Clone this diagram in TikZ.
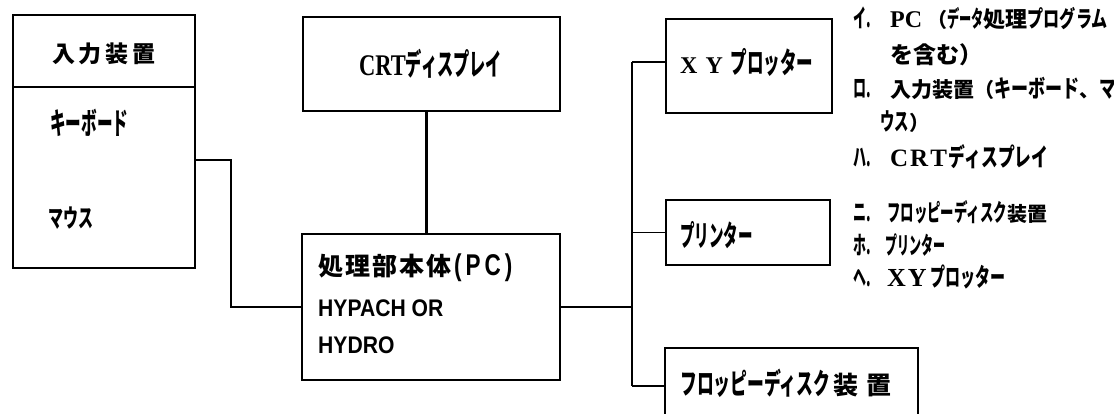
\documentclass[tikz,border=0pt]{standalone}
\usepackage{fontspec}
\usepackage{graphicx}
\newfontfamily\jp{Noto Sans CJK JP}
\newfontfamily\lser{Liberation Serif}
\newfontfamily\lsans{Liberation Sans}
\newcommand\fsz[1]{\fontsize{#1}{#1}\selectfont}
% squeezed text: size, x-scale, text
\newcommand\sq[3]{\scalebox{#2}[1]{\fsz{#1}#3}}
\newcommand\mk[2]{\makebox[#1][l]{\sq{25}{0.52}{#2}}}
\begin{document}
\begin{tikzpicture}[x=1pt,y=-1pt,
  box/.style={draw,line width=1.4pt,inner sep=0pt},
  conn/.style={line width=1.2pt},
  thickconn/.style={line width=3pt},
  busline/.style={line width=2pt},
  lbl/.style={inner sep=0pt,anchor=west,font=\jp\bfseries},
  clbl/.style={inner sep=0pt,anchor=center,font=\jp\bfseries}]
\fill[white] (0,0) rectangle (1114,414);
\clip (0,0) rectangle (1114,414);
% boxes
\node[box,minimum width=182pt,minimum height=253pt] (inp) at (104,141.5) {};
\node[box,minimum width=257pt,minimum height=94pt] (crt) at (431.5,64) {};
\node[box,minimum width=258pt,minimum height=146pt] (pc) at (431,307) {};
\node[box,minimum width=166pt,minimum height=94pt] (xy) at (749,66) {};
\node[box,minimum width=164pt,minimum height=65pt] (pr) at (748,232.5) {};
\node[box,minimum width=253pt,minimum height=76pt] (fl) at (791.5,386) {};
% divider in input box
\coordinate (dv) at (0,87);
\draw[line width=1.2pt] (inp.west |- dv) -- (inp.east |- dv);
% labels
\node[clbl] (t1) at (104,54) {\fsz{23}入\kern4pt力\kern4pt装\kern4pt置};
\node[lbl] (t2) at (50,123) {\sq{30}{0.52}{キーボード}};
\node[lbl] (t3) at (48,218) {\sq{25}{0.6}{マウス}};
\node[lbl] (t4) at (359,64) {{\lser\bfseries\fsz{30}\scalebox{0.75}[1]{CRT}}\sq{30}{0.54}{ディスプレイ}};
\node[lbl] (t5) at (318,268) {\fsz{25}処\kern2pt理\kern2pt部\kern2pt本\kern2pt体{\lsans\bfseries\kern3pt\scalebox{0.75}[1]{\fsz{30}(}\kern4pt\scalebox{0.75}[1]{\fsz{30}P}\kern4pt\scalebox{0.75}[1]{\fsz{30}C}\kern4pt\scalebox{0.75}[1]{\fsz{30})}}};
\node[lbl,font=\lsans\bfseries] (t6) at (318,308) {\scalebox{0.88}[1]{\fsz{24}HYPACH OR}};
\node[lbl,font=\lsans\bfseries] (t7) at (318,345) {\scalebox{0.88}[1]{\fsz{24}HYDRO}};
\node[lbl] (t8) at (680,62) {{\lser\bfseries\fsz{24}X\kern8pt Y}\kern8pt\sq{29}{0.57}{プロッター}};
\node[lbl] (t9) at (680,235) {\sq{29}{0.5}{プリンター}};
\node[lbl] (t10) at (680,383) {\sq{29}{0.58}{フロッピーディスク}\kern3pt{\fsz{25}装\kern8pt置}};
% legend
\node[lbl] (l1) at (853,18) {\mk{37pt}{イ.}{\lser\bfseries\fsz{24}PC}\kern5pt{\fsz{20}（}\sq{23}{0.53}{データ}{\fsz{22}処理}\sq{23}{0.7}{プログラム}};
\node[lbl] (l2) at (890,55) {\fsz{23}を含む）};
\node[lbl] (l3) at (853,88) {\mk{37pt}{ロ.}{\fsz{21}入力装置}{\fsz{20}（}\sq{24}{0.71}{キーボード}{\fsz{20}、}\sq{24}{0.7}{マ}};
\node[lbl] (l4) at (880,122) {\sq{24}{0.6}{ウス}{\fsz{20}）}};
\node[lbl] (l5) at (853,157) {\mk{37pt}{ハ.}{\lser\bfseries\fsz{25}C\kern2ptR\kern2ptT}\kern2pt\sq{25}{0.67}{ディスプレイ}};
\node[lbl] (l6) at (853,212) {\mk{34pt}{ニ.}\sq{24}{0.56}{フロッピーディスク}{\fsz{20}装置}};
\node[lbl] (l7) at (853,245) {\mk{32pt}{ホ.}\sq{24}{0.5}{プリンター}};
\node[lbl] (l8) at (853,277) {\mk{34pt}{ヘ.}{\lser\bfseries\fsz{26}X\kern2pt Y}\kern4pt\sq{25}{0.6}{プロッター}};
% connectors
\coordinate (j1) at (231,160);
\draw[conn] (inp.east |- j1) -- (j1) |- (pc.west);
\coordinate (cx) at (426,0);
\draw[thickconn] (crt.south -| cx) -- (pc.north -| cx);
\coordinate (b) at (632,0);
\coordinate (xyb) at (0,62);
\draw[conn] (xy.west |- xyb) -- (b |- xyb);
\draw[conn] (pr.west) -- (pr.west -| b);
\draw[conn] (fl.west) -- (fl.west -| b);
\draw[conn] (pc.east) -- (pc.east -| b);
\draw[busline] (b |- xyb) -- (fl.west -| b);
\end{tikzpicture}
\end{document}
